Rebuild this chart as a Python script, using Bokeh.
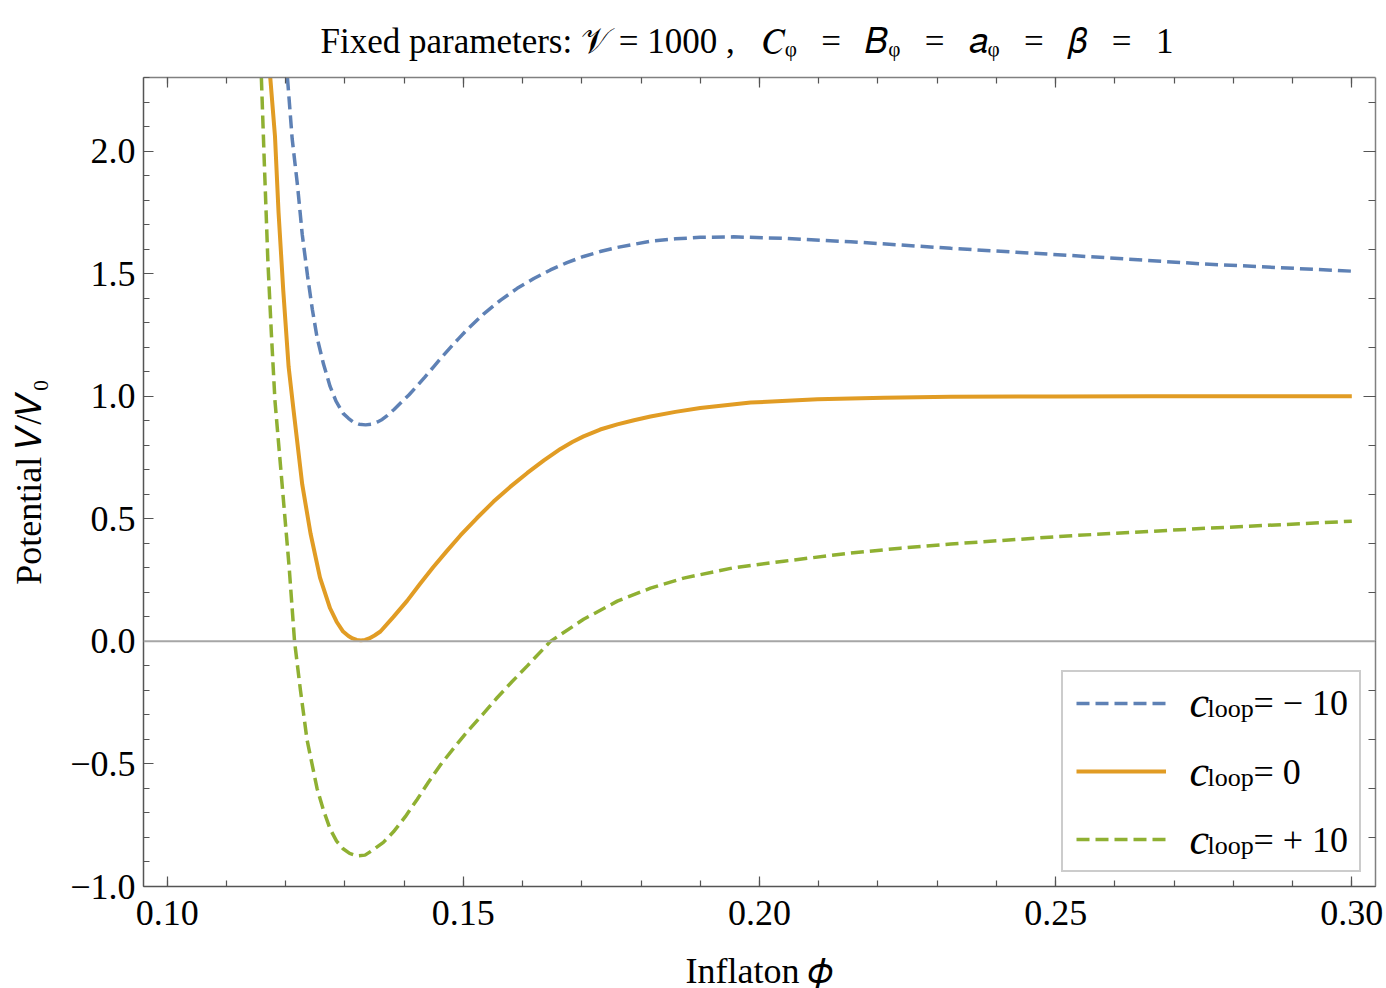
import numpy as np
from bokeh.plotting import figure
from bokeh.models import Range1d, LinearAxis, FixedTicker, Span, Label, Legend, LegendItem, Title
from bokeh.embed import file_html
from bokeh.resources import INLINE

# ---------------- data ----------------
phi_m10 = [0.1203, 0.1211, 0.1220, 0.1228, 0.1237, 0.1245, 0.1253, 0.1264, 0.1275, 0.1285,
           0.1297, 0.1306, 0.1314, 0.1324, 0.1335, 0.1345, 0.1355, 0.1363, 0.1372, 0.1383,
           0.1394, 0.1408, 0.1422, 0.1435, 0.1448, 0.1463, 0.1478, 0.1492, 0.1505, 0.1534,
           0.1563, 0.1591, 0.1619, 0.1647, 0.1675, 0.1703, 0.1731, 0.1760, 0.1816, 0.1858,
           0.1900, 0.1956, 0.2041, 0.2154, 0.2238, 0.2323, 0.2520, 0.2745, 0.3000]
v_m10 = [2.30, 2.05, 1.86, 1.66, 1.49, 1.355, 1.24, 1.13, 1.04, 0.98,
         0.93, 0.91, 0.895, 0.886, 0.883, 0.886, 0.895, 0.905, 0.922, 0.946,
         0.972, 1.005, 1.042, 1.078, 1.115, 1.158, 1.198, 1.235, 1.268, 1.335,
         1.392, 1.44, 1.48, 1.515, 1.545, 1.57, 1.59, 1.607, 1.632, 1.642,
         1.648, 1.650, 1.644, 1.630, 1.617, 1.603, 1.575, 1.54, 1.51]

phi_0 = [0.1174, 0.1182, 0.1188, 0.1196, 0.1205, 0.1213, 0.1228, 0.1242, 0.1258, 0.1275,
         0.1286, 0.1297, 0.1306, 0.1313, 0.1320, 0.1327, 0.1334, 0.1341, 0.1350, 0.1360,
         0.1382, 0.1405, 0.1427, 0.1449, 0.1472, 0.1495, 0.1523, 0.1551, 0.1579, 0.1608,
         0.1636, 0.1664, 0.1684, 0.1703, 0.1731, 0.1760, 0.1788, 0.1816, 0.1858, 0.1900,
         0.1985, 0.2098, 0.2210, 0.2323, 0.2500, 0.2661, 0.3000]
v_0 = [2.30, 2.06, 1.75, 1.43, 1.12, 0.95, 0.64, 0.44, 0.26, 0.135,
       0.08, 0.04, 0.022, 0.012, 0.006, 0.004, 0.006, 0.012, 0.024, 0.04,
       0.10, 0.165, 0.235, 0.302, 0.368, 0.432, 0.503, 0.570, 0.630, 0.687,
       0.738, 0.785, 0.813, 0.836, 0.864, 0.885, 0.902, 0.917, 0.936, 0.952,
       0.974, 0.988, 0.994, 0.998, 0.999, 1.0, 1.0]

phi_p10 = [0.1159, 0.1164, 0.1170, 0.1176, 0.1182, 0.1194, 0.1206, 0.1215, 0.1225, 0.1236,
           0.1253, 0.1264, 0.1275, 0.1286, 0.1297, 0.1308, 0.1320, 0.1334, 0.1348, 0.1365,
           0.1382, 0.1402, 0.1422, 0.1441, 0.1461, 0.1484, 0.1506, 0.1532, 0.1557, 0.1582,
           0.1608, 0.1647, 0.1703, 0.1760, 0.1816, 0.1872, 0.1956, 0.2041, 0.2154, 0.2238,
           0.2323, 0.2520, 0.2745, 0.3000]
v_p10 = [2.30, 1.95, 1.55, 1.25, 0.98, 0.64, 0.30, 0.0, -0.20, -0.40,
         -0.60, -0.69, -0.765, -0.815, -0.846, -0.865, -0.875, -0.872, -0.85, -0.82,
         -0.777, -0.715, -0.645, -0.575, -0.505, -0.435, -0.37, -0.30, -0.23, -0.165,
         -0.10, 0.0, 0.09, 0.164, 0.217, 0.258, 0.30, 0.327, 0.36, 0.38,
         0.397, 0.43, 0.46, 0.49]

series_values = ["\u2212 10", "0", "+ 10"]          # c_loop values
series_colors = ["#5E81B5", "#E19C24", "#8FB032"]

x_major_ticks = [0.10, 0.15, 0.20, 0.25, 0.30]
x_tick_labels = ["0.10", "0.15", "0.20", "0.25", "0.30"]
y_major_ticks = [-1.0, -0.5, 0.0, 0.5, 1.0, 1.5, 2.0]
y_tick_labels = ["\u22121.0", "\u22120.5", "0.0", "0.5", "1.0", "1.5", "2.0"]
y_right_major = [-1.0, 0.0, 1.0, 2.0]

G = "\u2002\u2009"  # en space + thin space around the equals signs
title_text = ("Fixed parameters: \U0001D4B1 = 1000 ,\u2002 "
              + "\U0001D436\u1D69" + G + "=" + G + "\U0001D435\u1D69" + G + "=" + G
              + "\U0001D44E\u1D69" + G + "=" + G + "\U0001D6FD" + G + "=" + G + "1")
x_label = "Inflaton \U0001D719"
y_label = "Potential \U0001D449/\U0001D449\u2080"

FONT = "Liberation Serif"

# ---------------- figure ----------------
p = figure(frame_width=1232, frame_height=809,
           x_range=Range1d(0.096, 0.304), y_range=Range1d(-1.0, 2.3),
           x_axis_type=None, y_axis_type=None,
           output_backend="svg", toolbar_location=None,
           min_border_left=143, min_border_right=9, min_border_top=77, min_border_bottom=100,
           background_fill_color="white", border_fill_color="white")
p.outline_line_color = None
p.grid.visible = False

x_minor = [round(v, 2) for v in np.arange(0.10, 0.3001, 0.01)]
y_minor = [round(v, 1) for v in np.arange(-1.0, 2.3001, 0.1)]
y_minor_r = [round(v, 1) for v in np.arange(-1.0, 2.2001, 0.2)]


def make_axis(ticks, minor, labels, show, line_color, maj_in, min_in, standoff=8):
    ax = LinearAxis(ticker=FixedTicker(ticks=ticks, minor_ticks=minor))
    ax.axis_line_color = line_color
    ax.axis_line_width = 1.5
    ax.major_tick_line_color = "#555555"
    ax.minor_tick_line_color = "#555555"
    ax.major_tick_line_width = 1.2
    ax.minor_tick_line_width = 1.2
    ax.major_tick_in = maj_in
    ax.major_tick_out = 0
    ax.minor_tick_in = min_in
    ax.minor_tick_out = 0
    if show:
        ax.major_label_overrides = {t: l for t, l in zip(ticks, labels)}
        ax.major_label_text_font = FONT
        ax.major_label_text_font_size = "36px"
        ax.major_label_text_color = "black"
        ax.major_label_standoff = standoff
    else:
        ax.major_label_text_color = None
        ax.major_label_text_font_size = "0px"
        ax.major_label_standoff = 0
    return ax


xb = make_axis(x_major_ticks, x_minor, x_tick_labels, True, "#555555", 10, 6, standoff=14)
xb.axis_label = x_label
xb.axis_label_text_font = FONT
xb.axis_label_text_font_size = "36px"
xb.axis_label_text_font_style = "normal"
xb.axis_label_text_color = "black"
xb.axis_label_standoff = 23
p.add_layout(xb, "below")

yl = make_axis(y_major_ticks, y_minor, y_tick_labels, True, "#555555", 10, 6)
yl.axis_label = y_label
yl.axis_label_text_font = FONT
yl.axis_label_text_font_size = "36px"
yl.axis_label_text_font_style = "normal"
yl.axis_label_text_color = "black"
yl.axis_label_standoff = 18
p.add_layout(yl, "left")

p.add_layout(make_axis(x_major_ticks, x_minor, x_tick_labels, False, "#808080", 10, 6), "above")
p.add_layout(make_axis(y_right_major, y_minor_r, None, False, "#808080", 12, 7), "right")

p.add_layout(Title(text=title_text, align="left", offset=177, text_font=FONT,
                   text_font_size="35px", text_font_style="normal", text_color="black",
                   standoff=33), "above")

p.add_layout(Span(location=0, dimension="width", line_color="#a6a6a6", line_width=2))

r_m10 = p.line(phi_m10, v_m10, line_color=series_colors[0], line_width=3.5, line_dash="13 6")
r_0 = p.line(phi_0, v_0, line_color=series_colors[1], line_width=4)
r_p10 = p.line(phi_p10, v_p10, line_color=series_colors[2], line_width=3.5, line_dash="13 6")

legend = Legend(items=[LegendItem(label=" ", renderers=[r]) for r in (r_m10, r_0, r_p10)],
                location="bottom_right", margin=14, padding=13, spacing=32,
                glyph_width=90, glyph_height=36, label_height=36, label_width=158,
                label_standoff=22, border_line_color="#999999", border_line_width=2,
                background_fill_alpha=0.0)
p.add_layout(legend)


def lab(text, x, y, size, italic=False):
    p.add_layout(Label(x=x, y=y, x_units="screen", y_units="screen", text=text,
                       text_font=FONT, text_font_size=size,
                       text_font_style="italic" if italic else "normal",
                       text_color="black", text_baseline="alphabetic", text_align="left",
                       level="overlay"))


# legend texts: c_loop = value
for yb, val in zip([184, 115, 47], series_values):
    lab("c", 1046, yb, "44px", italic=True)
    lab("loop", 1064, yb - 6, "26px")
    lab("= " + val, 1110, yb, "36px")

open("out.html", "w").write(file_html(p, INLINE))
